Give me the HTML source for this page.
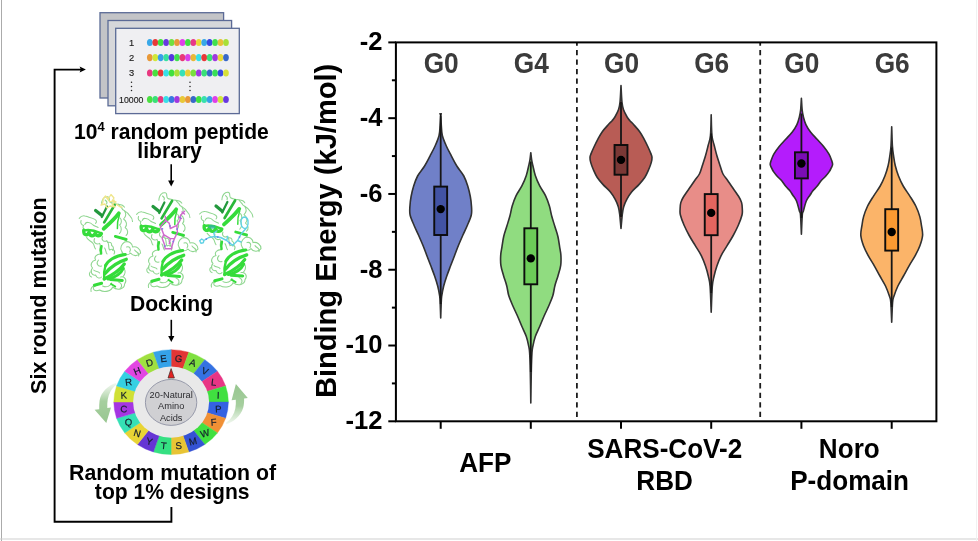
<!DOCTYPE html>
<html><head><meta charset="utf-8"><title>figure</title>
<style>
html,body{margin:0;padding:0;background:#fff;}
body{width:978px;height:541px;overflow:hidden;font-family:"Liberation Sans", sans-serif;}
svg{display:block;font-family:"Liberation Sans", sans-serif;}
svg text{font-family:"Liberation Sans", sans-serif;}
</style></head><body>
<svg width="978" height="541" viewBox="0 0 978 541">
<defs><filter id="soft" x="0" y="0" width="978" height="541" filterUnits="userSpaceOnUse"><feGaussianBlur stdDeviation="0.55"/></filter></defs>
<g filter="url(#soft)">
<rect x="0" y="0" width="978" height="541" fill="#ffffff"/>
<line x1="1.5" y1="0" x2="1.5" y2="541" stroke="#ababab" stroke-width="1"/>
<line x1="0" y1="539" x2="978" y2="539" stroke="#cfcfcf" stroke-width="1"/>
<line x1="976.5" y1="0" x2="976.5" y2="541" stroke="#f1f1f1" stroke-width="1"/>
<g id="chart">
<path d="M440.70 116.00 C440.80 117.55 441.02 122.05 441.29 125.30 C441.56 128.55 441.51 132.10 442.33 135.50 C443.15 138.90 444.70 142.32 446.20 145.70 C447.70 149.08 449.53 152.42 451.30 155.80 C453.07 159.18 454.72 162.63 456.80 166.00 C458.88 169.37 461.97 172.62 463.80 176.00 C465.63 179.38 466.72 182.88 467.80 186.30 C468.88 189.72 469.68 193.12 470.30 196.50 C470.92 199.88 471.33 203.52 471.50 206.60 C471.67 209.68 471.98 211.90 471.30 215.00 C470.62 218.10 468.82 221.82 467.40 225.20 C465.98 228.58 464.30 231.92 462.80 235.30 C461.30 238.68 459.78 242.10 458.40 245.50 C457.02 248.90 455.80 252.32 454.50 255.70 C453.20 259.08 451.88 262.42 450.60 265.80 C449.32 269.18 447.95 272.63 446.80 276.00 C445.65 279.37 444.56 282.62 443.70 286.00 C442.84 289.38 442.09 293.13 441.66 296.30 C441.24 299.47 441.30 301.38 441.14 305.00 C440.98 308.62 440.77 315.83 440.70 318.00 C440.63 315.83 440.42 308.62 440.26 305.00 C440.10 301.38 440.16 299.47 439.74 296.30 C439.31 293.13 438.56 289.38 437.70 286.00 C436.84 282.62 435.75 279.37 434.60 276.00 C433.45 272.63 432.08 269.18 430.80 265.80 C429.52 262.42 428.20 259.08 426.90 255.70 C425.60 252.32 424.38 248.90 423.00 245.50 C421.62 242.10 420.10 238.68 418.60 235.30 C417.10 231.92 415.42 228.58 414.00 225.20 C412.58 221.82 410.78 218.10 410.10 215.00 C409.42 211.90 409.73 209.68 409.90 206.60 C410.07 203.52 410.48 199.88 411.10 196.50 C411.72 193.12 412.52 189.72 413.60 186.30 C414.68 182.88 415.77 179.38 417.60 176.00 C419.43 172.62 422.52 169.37 424.60 166.00 C426.68 162.63 428.33 159.18 430.10 155.80 C431.87 152.42 433.70 149.08 435.20 145.70 C436.70 142.32 438.25 138.90 439.07 135.50 C439.89 132.10 439.84 128.55 440.11 125.30 C440.38 122.05 440.60 117.55 440.70 116.00 Z" fill="#7080c8" stroke="#303030" stroke-width="1.6" stroke-linejoin="round"/>
<line x1="440.70" y1="113.60" x2="440.70" y2="304.00" stroke="#161616" stroke-width="1.8"/>
<rect x="434.25" y="186.60" width="12.9" height="48.40" fill="#4353a4" stroke="#0c0c0c" stroke-width="1.9"/>
<circle cx="440.70" cy="209.10" r="4.2" fill="#000000"/>
<path d="M530.80 152.70 C530.95 153.92 531.36 157.90 531.69 160.00 C532.02 162.10 532.20 162.72 532.80 165.30 C533.40 167.88 534.17 172.10 535.30 175.50 C536.43 178.90 537.88 182.32 539.60 185.70 C541.32 189.08 543.97 192.42 545.60 195.80 C547.23 199.18 548.38 202.63 549.40 206.00 C550.42 209.37 550.80 212.62 551.70 216.00 C552.60 219.38 553.77 222.88 554.80 226.30 C555.83 229.72 557.10 233.12 557.90 236.50 C558.70 239.88 559.10 243.48 559.60 246.60 C560.10 249.72 560.72 252.08 560.90 255.20 C561.08 258.32 561.17 261.92 560.70 265.30 C560.23 268.68 559.07 272.10 558.10 275.50 C557.13 278.90 555.78 282.32 554.90 285.70 C554.02 289.08 553.83 292.42 552.80 295.80 C551.77 299.18 550.15 302.63 548.70 306.00 C547.25 309.37 545.58 312.62 544.10 316.00 C542.62 319.38 541.27 322.88 539.80 326.30 C538.33 329.72 536.47 333.12 535.30 336.50 C534.13 339.88 533.35 343.90 532.80 346.60 C532.25 349.30 532.23 348.80 531.98 352.70 C531.74 356.60 531.52 361.62 531.32 370.00 C531.12 378.38 530.89 397.50 530.80 403.00 C530.71 397.50 530.48 378.38 530.28 370.00 C530.08 361.62 529.86 356.60 529.62 352.70 C529.37 348.80 529.35 349.30 528.80 346.60 C528.25 343.90 527.47 339.88 526.30 336.50 C525.13 333.12 523.27 329.72 521.80 326.30 C520.33 322.88 518.98 319.38 517.50 316.00 C516.02 312.62 514.35 309.37 512.90 306.00 C511.45 302.63 509.83 299.18 508.80 295.80 C507.77 292.42 507.58 289.08 506.70 285.70 C505.82 282.32 504.47 278.90 503.50 275.50 C502.53 272.10 501.37 268.68 500.90 265.30 C500.43 261.92 500.52 258.32 500.70 255.20 C500.88 252.08 501.50 249.72 502.00 246.60 C502.50 243.48 502.90 239.88 503.70 236.50 C504.50 233.12 505.77 229.72 506.80 226.30 C507.83 222.88 509.00 219.38 509.90 216.00 C510.80 212.62 511.18 209.37 512.20 206.00 C513.22 202.63 514.37 199.18 516.00 195.80 C517.63 192.42 520.28 189.08 522.00 185.70 C523.72 182.32 525.17 178.90 526.30 175.50 C527.43 172.10 528.20 167.88 528.80 165.30 C529.40 162.72 529.58 162.10 529.91 160.00 C530.24 157.90 530.65 153.92 530.80 152.70 Z" fill="#90dc80" stroke="#303030" stroke-width="1.6" stroke-linejoin="round"/>
<line x1="530.80" y1="161.50" x2="530.80" y2="372.00" stroke="#161616" stroke-width="1.8"/>
<rect x="524.35" y="228.30" width="12.9" height="56.00" fill="#6ccc58" stroke="#0c0c0c" stroke-width="1.9"/>
<circle cx="530.80" cy="258.40" r="4.2" fill="#000000"/>
<path d="M621.00 85.60 C621.16 88.37 621.55 98.20 621.96 102.20 C622.37 106.20 622.59 107.13 623.44 109.60 C624.30 112.07 626.02 115.15 627.10 117.00 C628.18 118.85 628.85 119.48 629.90 120.70 C630.95 121.92 631.77 122.47 633.40 124.30 C635.03 126.13 637.92 129.23 639.70 131.70 C641.48 134.17 642.75 136.63 644.10 139.10 C645.45 141.57 646.65 144.03 647.80 146.50 C648.95 148.97 650.30 152.07 651.00 153.90 C651.70 155.73 651.95 156.08 652.00 157.50 C652.05 158.92 651.87 160.35 651.30 162.40 C650.73 164.45 649.67 167.33 648.60 169.80 C647.53 172.27 646.52 174.73 644.90 177.20 C643.28 179.67 641.12 182.13 638.90 184.60 C636.68 187.07 633.62 189.55 631.60 192.00 C629.58 194.45 628.12 196.85 626.80 199.30 C625.48 201.75 624.44 204.23 623.70 206.70 C622.96 209.17 622.78 210.47 622.33 214.10 C621.88 217.73 621.22 226.10 621.00 228.50 C620.78 226.10 620.12 217.73 619.67 214.10 C619.22 210.47 619.04 209.17 618.30 206.70 C617.56 204.23 616.52 201.75 615.20 199.30 C613.88 196.85 612.42 194.45 610.40 192.00 C608.38 189.55 605.32 187.07 603.10 184.60 C600.88 182.13 598.72 179.67 597.10 177.20 C595.48 174.73 594.47 172.27 593.40 169.80 C592.33 167.33 591.27 164.45 590.70 162.40 C590.13 160.35 589.95 158.92 590.00 157.50 C590.05 156.08 590.30 155.73 591.00 153.90 C591.70 152.07 593.05 148.97 594.20 146.50 C595.35 144.03 596.55 141.57 597.90 139.10 C599.25 136.63 600.52 134.17 602.30 131.70 C604.08 129.23 606.97 126.13 608.60 124.30 C610.23 122.47 611.05 121.92 612.10 120.70 C613.15 119.48 613.82 118.85 614.90 117.00 C615.98 115.15 617.70 112.07 618.56 109.60 C619.41 107.13 619.63 106.20 620.04 102.20 C620.45 98.20 620.84 88.37 621.00 85.60 Z" fill="#b85c55" stroke="#303030" stroke-width="1.6" stroke-linejoin="round"/>
<line x1="621.00" y1="102.00" x2="621.00" y2="217.00" stroke="#161616" stroke-width="1.8"/>
<rect x="614.55" y="145.00" width="12.9" height="29.70" fill="#7a3836" stroke="#0c0c0c" stroke-width="1.9"/>
<circle cx="621.00" cy="159.90" r="4.2" fill="#000000"/>
<path d="M711.20 114.80 C711.32 118.25 711.42 130.35 711.94 135.50 C712.46 140.65 713.47 142.32 714.30 145.70 C715.13 149.08 715.92 152.42 716.90 155.80 C717.88 159.18 719.18 162.97 720.20 166.00 C721.22 169.03 721.78 171.63 723.00 174.00 C724.22 176.37 726.07 178.15 727.50 180.20 C728.93 182.25 729.73 183.58 731.60 186.30 C733.47 189.02 737.03 193.78 738.70 196.50 C740.37 199.22 741.00 200.52 741.60 202.60 C742.20 204.68 742.23 206.93 742.30 209.00 C742.37 211.07 742.67 212.28 742.00 215.00 C741.33 217.72 739.77 221.88 738.30 225.30 C736.83 228.72 735.07 232.10 733.20 235.50 C731.33 238.90 729.13 242.32 727.10 245.70 C725.07 249.08 722.70 252.42 721.00 255.80 C719.30 259.18 718.05 262.63 716.90 266.00 C715.75 269.37 714.87 272.62 714.10 276.00 C713.34 279.38 712.79 280.25 712.31 286.30 C711.83 292.35 711.38 307.97 711.20 312.30 C711.02 307.97 710.57 292.35 710.09 286.30 C709.61 280.25 709.07 279.38 708.30 276.00 C707.54 272.62 706.65 269.37 705.50 266.00 C704.35 262.63 703.10 259.18 701.40 255.80 C699.70 252.42 697.33 249.08 695.30 245.70 C693.27 242.32 691.07 238.90 689.20 235.50 C687.33 232.10 685.57 228.72 684.10 225.30 C682.63 221.88 681.07 217.72 680.40 215.00 C679.73 212.28 680.03 211.07 680.10 209.00 C680.17 206.93 680.20 204.68 680.80 202.60 C681.40 200.52 682.03 199.22 683.70 196.50 C685.37 193.78 688.93 189.02 690.80 186.30 C692.67 183.58 693.47 182.25 694.90 180.20 C696.33 178.15 698.18 176.37 699.40 174.00 C700.62 171.63 701.18 169.03 702.20 166.00 C703.22 162.97 704.52 159.18 705.50 155.80 C706.48 152.42 707.27 149.08 708.10 145.70 C708.93 142.32 709.94 140.65 710.46 135.50 C710.98 130.35 711.08 118.25 711.20 114.80 Z" fill="#e88d88" stroke="#303030" stroke-width="1.6" stroke-linejoin="round"/>
<line x1="711.20" y1="133.50" x2="711.20" y2="293.00" stroke="#161616" stroke-width="1.8"/>
<rect x="704.75" y="194.10" width="12.9" height="41.10" fill="#e4655f" stroke="#0c0c0c" stroke-width="1.9"/>
<circle cx="711.20" cy="212.90" r="4.2" fill="#000000"/>
<path d="M801.40 98.20 C801.52 100.13 801.79 106.63 802.14 109.80 C802.49 112.97 802.85 114.73 803.47 117.20 C804.10 119.67 804.73 122.13 805.90 124.60 C807.07 127.07 808.63 129.55 810.50 132.00 C812.37 134.45 814.88 136.85 817.10 139.30 C819.32 141.75 821.82 144.23 823.80 146.70 C825.78 149.17 827.68 151.80 829.00 154.10 C830.32 156.40 831.10 158.77 831.70 160.50 C832.30 162.23 832.70 163.22 832.60 164.50 C832.50 165.78 831.68 166.97 831.10 168.20 C830.52 169.43 830.05 170.52 829.10 171.90 C828.15 173.28 826.70 175.07 825.40 176.50 C824.10 177.93 822.73 178.82 821.30 180.50 C819.87 182.18 818.20 184.90 816.80 186.60 C815.40 188.30 814.02 189.30 812.90 190.70 C811.78 192.10 811.18 193.32 810.10 195.00 C809.02 196.68 807.52 198.13 806.40 200.80 C805.28 203.47 804.08 208.63 803.40 211.00 C802.71 213.37 802.62 211.12 802.29 215.00 C801.96 218.88 801.55 231.08 801.40 234.30 C801.25 231.08 800.84 218.88 800.51 215.00 C800.18 211.12 800.09 213.37 799.40 211.00 C798.72 208.63 797.52 203.47 796.40 200.80 C795.28 198.13 793.78 196.68 792.70 195.00 C791.62 193.32 791.02 192.10 789.90 190.70 C788.78 189.30 787.40 188.30 786.00 186.60 C784.60 184.90 782.93 182.18 781.50 180.50 C780.07 178.82 778.70 177.93 777.40 176.50 C776.10 175.07 774.65 173.28 773.70 171.90 C772.75 170.52 772.28 169.43 771.70 168.20 C771.12 166.97 770.30 165.78 770.20 164.50 C770.10 163.22 770.50 162.23 771.10 160.50 C771.70 158.77 772.48 156.40 773.80 154.10 C775.12 151.80 777.02 149.17 779.00 146.70 C780.98 144.23 783.48 141.75 785.70 139.30 C787.92 136.85 790.43 134.45 792.30 132.00 C794.17 129.55 795.73 127.07 796.90 124.60 C798.07 122.13 798.70 119.67 799.33 117.20 C799.95 114.73 800.31 112.97 800.66 109.80 C801.01 106.63 801.28 100.13 801.40 98.20 Z" fill="#b41cfc" stroke="#303030" stroke-width="1.6" stroke-linejoin="round"/>
<line x1="801.40" y1="113.50" x2="801.40" y2="218.00" stroke="#161616" stroke-width="1.8"/>
<rect x="794.95" y="152.30" width="12.9" height="26.10" fill="#7a0cb4" stroke="#0c0c0c" stroke-width="1.9"/>
<circle cx="801.40" cy="163.50" r="4.2" fill="#000000"/>
<path d="M891.70 126.80 C891.81 129.92 892.06 140.68 892.37 145.50 C892.67 150.32 893.06 152.32 893.55 155.70 C894.04 159.08 894.48 162.42 895.30 165.80 C896.12 169.18 897.18 172.63 898.50 176.00 C899.82 179.37 901.28 182.62 903.20 186.00 C905.12 189.38 907.87 192.88 910.00 196.30 C912.13 199.72 914.37 203.12 916.00 206.50 C917.63 209.88 918.90 213.48 919.80 216.60 C920.70 219.72 920.93 222.08 921.40 225.20 C921.87 228.32 922.83 231.92 922.60 235.30 C922.37 238.68 921.23 242.10 920.00 245.50 C918.77 248.90 917.02 252.32 915.20 255.70 C913.38 259.08 911.05 262.42 909.10 265.80 C907.15 269.18 905.37 272.63 903.50 276.00 C901.63 279.37 899.50 282.62 897.90 286.00 C896.30 289.38 894.81 293.57 893.92 296.30 C893.03 299.03 892.96 298.07 892.59 302.40 C892.22 306.73 891.85 318.98 891.70 322.30 C891.55 318.98 891.18 306.73 890.81 302.40 C890.44 298.07 890.37 299.03 889.48 296.30 C888.59 293.57 887.10 289.38 885.50 286.00 C883.90 282.62 881.77 279.37 879.90 276.00 C878.03 272.63 876.25 269.18 874.30 265.80 C872.35 262.42 870.02 259.08 868.20 255.70 C866.38 252.32 864.63 248.90 863.40 245.50 C862.17 242.10 861.03 238.68 860.80 235.30 C860.57 231.92 861.53 228.32 862.00 225.20 C862.47 222.08 862.70 219.72 863.60 216.60 C864.50 213.48 865.77 209.88 867.40 206.50 C869.03 203.12 871.27 199.72 873.40 196.30 C875.53 192.88 878.28 189.38 880.20 186.00 C882.12 182.62 883.58 179.37 884.90 176.00 C886.22 172.63 887.28 169.18 888.10 165.80 C888.92 162.42 889.36 159.08 889.85 155.70 C890.34 152.32 890.73 150.32 891.03 145.50 C891.34 140.68 891.59 129.92 891.70 126.80 Z" fill="#fbb469" stroke="#303030" stroke-width="1.6" stroke-linejoin="round"/>
<line x1="891.70" y1="147.50" x2="891.70" y2="307.00" stroke="#161616" stroke-width="1.8"/>
<rect x="885.25" y="209.20" width="12.9" height="41.40" fill="#fb9a32" stroke="#0c0c0c" stroke-width="1.9"/>
<circle cx="891.70" cy="231.95" r="4.2" fill="#000000"/>
<line x1="439.2" y1="113.8" x2="442" y2="113.8" stroke="#1a1a1a" stroke-width="1.2"/>
<line x1="576.9" y1="42.4" x2="576.9" y2="421.3" stroke="#1c1c1c" stroke-width="1.8" stroke-dasharray="5.3 4.22" stroke-dashoffset="2"/>
<line x1="760.2" y1="42.4" x2="760.2" y2="421.3" stroke="#1c1c1c" stroke-width="1.8" stroke-dasharray="5.3 4.22" stroke-dashoffset="2"/>
<rect x="395.90" y="42.40" width="540.50" height="378.90" fill="none" stroke="#000000" stroke-width="2"/>
<line x1="388.30" y1="42.40" x2="395.90" y2="42.40" stroke="#000" stroke-width="2"/>
<line x1="391.90" y1="80.29" x2="395.90" y2="80.29" stroke="#000" stroke-width="2"/>
<line x1="388.30" y1="118.18" x2="395.90" y2="118.18" stroke="#000" stroke-width="2"/>
<line x1="391.90" y1="156.07" x2="395.90" y2="156.07" stroke="#000" stroke-width="2"/>
<line x1="388.30" y1="193.96" x2="395.90" y2="193.96" stroke="#000" stroke-width="2"/>
<line x1="391.90" y1="231.85" x2="395.90" y2="231.85" stroke="#000" stroke-width="2"/>
<line x1="388.30" y1="269.74" x2="395.90" y2="269.74" stroke="#000" stroke-width="2"/>
<line x1="391.90" y1="307.63" x2="395.90" y2="307.63" stroke="#000" stroke-width="2"/>
<line x1="388.30" y1="345.52" x2="395.90" y2="345.52" stroke="#000" stroke-width="2"/>
<line x1="391.90" y1="383.41" x2="395.90" y2="383.41" stroke="#000" stroke-width="2"/>
<line x1="388.30" y1="421.30" x2="395.90" y2="421.30" stroke="#000" stroke-width="2"/>
<line x1="440.70" y1="421.30" x2="440.70" y2="428.80" stroke="#000" stroke-width="2"/>
<line x1="530.80" y1="421.30" x2="530.80" y2="428.80" stroke="#000" stroke-width="2"/>
<line x1="621.00" y1="421.30" x2="621.00" y2="428.80" stroke="#000" stroke-width="2"/>
<line x1="711.20" y1="421.30" x2="711.20" y2="428.80" stroke="#000" stroke-width="2"/>
<line x1="801.40" y1="421.30" x2="801.40" y2="428.80" stroke="#000" stroke-width="2"/>
<line x1="891.70" y1="421.30" x2="891.70" y2="428.80" stroke="#000" stroke-width="2"/>
<text transform="translate(382.50 50.30) scale(1 1.040)" text-anchor="end" font-size="25.6" font-weight="700" fill="#000">-2</text>
<text transform="translate(382.50 126.08) scale(1 1.040)" text-anchor="end" font-size="25.6" font-weight="700" fill="#000">-4</text>
<text transform="translate(382.50 201.86) scale(1 1.040)" text-anchor="end" font-size="25.6" font-weight="700" fill="#000">-6</text>
<text transform="translate(382.50 277.64) scale(1 1.040)" text-anchor="end" font-size="25.6" font-weight="700" fill="#000">-8</text>
<text transform="translate(382.50 353.42) scale(1 1.040)" text-anchor="end" font-size="25.6" font-weight="700" fill="#000">-10</text>
<text transform="translate(382.50 429.20) scale(1 1.040)" text-anchor="end" font-size="25.6" font-weight="700" fill="#000">-12</text>
<text transform="translate(441.20 72.60) scale(1 1.090)" text-anchor="middle" font-size="26.3" font-weight="700" fill="#3a3a3a">G0</text>
<text transform="translate(531.30 72.60) scale(1 1.090)" text-anchor="middle" font-size="26.3" font-weight="700" fill="#3a3a3a">G4</text>
<text transform="translate(621.50 72.60) scale(1 1.090)" text-anchor="middle" font-size="26.3" font-weight="700" fill="#3a3a3a">G0</text>
<text transform="translate(711.70 72.60) scale(1 1.090)" text-anchor="middle" font-size="26.3" font-weight="700" fill="#3a3a3a">G6</text>
<text transform="translate(801.90 72.60) scale(1 1.090)" text-anchor="middle" font-size="26.3" font-weight="700" fill="#3a3a3a">G0</text>
<text transform="translate(892.20 72.60) scale(1 1.090)" text-anchor="middle" font-size="26.3" font-weight="700" fill="#3a3a3a">G6</text>
<text transform="translate(485.30 472.30) scale(1 1.040)" text-anchor="middle" font-size="26.1" font-weight="700" fill="#000">AFP</text>
<text transform="translate(664.70 458.20) scale(1 1.040)" text-anchor="middle" font-size="26.1" font-weight="700" fill="#000">SARS-CoV-2</text>
<text transform="translate(664.60 490.00) scale(1 1.040)" text-anchor="middle" font-size="26.1" font-weight="700" fill="#000">RBD</text>
<text transform="translate(849.30 458.20) scale(1 1.040)" text-anchor="middle" font-size="26.1" font-weight="700" fill="#000">Noro</text>
<text transform="translate(849.60 490.00) scale(1 1.040)" text-anchor="middle" font-size="26.1" font-weight="700" fill="#000">P-domain</text>
<text transform="translate(336.2 230.9) rotate(-90) scale(1 1.03)" text-anchor="middle" font-size="29.1" font-weight="700" fill="#000">Binding Energy (kJ/mol)</text>
</g>
<g id="left">
<path d="M171.4 507 V521.8 H54.6 V69.6 H81" fill="none" stroke="#000" stroke-width="1.9"/>
<path d="M85.9 69.6 L79.6 66.6 L80.8 69.6 L79.6 72.6 Z" fill="#000"/>
<text transform="translate(46.4 295.7) rotate(-90) scale(1 1.05)" text-anchor="middle" font-size="21.6" font-weight="700" fill="#000">Six round mutation</text>
<rect x="100.0" y="12.7" width="123.6" height="85.3" fill="#c3c4c7" stroke="#5b6b96" stroke-width="1.3"/>
<rect x="108.0" y="20.5" width="123.6" height="85.3" fill="#d6d7da" stroke="#5b6b96" stroke-width="1.3"/>
<rect x="115.7" y="28.3" width="123.6" height="85.3" fill="#efeff2" stroke="#5b6b96" stroke-width="1.3"/>
<text x="131.5" y="45.9" text-anchor="middle" font-size="9.3" fill="#1c1c1c" stroke="#1c1c1c" stroke-width="0.15">1</text>
<ellipse cx="149.80" cy="42.5" rx="2.85" ry="3.6" fill="#38a8e8"/>
<ellipse cx="155.24" cy="42.5" rx="2.85" ry="3.6" fill="#e83838"/>
<ellipse cx="160.68" cy="42.5" rx="2.85" ry="3.6" fill="#40e040"/>
<ellipse cx="166.12" cy="42.5" rx="2.85" ry="3.6" fill="#6838e0"/>
<ellipse cx="171.56" cy="42.5" rx="2.85" ry="3.6" fill="#70e040"/>
<ellipse cx="177.00" cy="42.5" rx="2.85" ry="3.6" fill="#e89838"/>
<ellipse cx="182.44" cy="42.5" rx="2.85" ry="3.6" fill="#e040e8"/>
<ellipse cx="187.88" cy="42.5" rx="2.85" ry="3.6" fill="#40e040"/>
<ellipse cx="193.32" cy="42.5" rx="2.85" ry="3.6" fill="#e83888"/>
<ellipse cx="198.76" cy="42.5" rx="2.85" ry="3.6" fill="#e8d838"/>
<ellipse cx="204.20" cy="42.5" rx="2.85" ry="3.6" fill="#38a8e8"/>
<ellipse cx="209.64" cy="42.5" rx="2.85" ry="3.6" fill="#3848e0"/>
<ellipse cx="215.08" cy="42.5" rx="2.85" ry="3.6" fill="#40e050"/>
<ellipse cx="220.52" cy="42.5" rx="2.85" ry="3.6" fill="#e8c038"/>
<ellipse cx="225.96" cy="42.5" rx="2.85" ry="3.6" fill="#a8e038"/>
<text x="131.5" y="61.0" text-anchor="middle" font-size="9.3" fill="#1c1c1c" stroke="#1c1c1c" stroke-width="0.15">2</text>
<ellipse cx="149.80" cy="57.6" rx="2.85" ry="3.6" fill="#e89838"/>
<ellipse cx="155.24" cy="57.6" rx="2.85" ry="3.6" fill="#d0e838"/>
<ellipse cx="160.68" cy="57.6" rx="2.85" ry="3.6" fill="#38a0e8"/>
<ellipse cx="166.12" cy="57.6" rx="2.85" ry="3.6" fill="#38e0a0"/>
<ellipse cx="171.56" cy="57.6" rx="2.85" ry="3.6" fill="#5838e0"/>
<ellipse cx="177.00" cy="57.6" rx="2.85" ry="3.6" fill="#40e050"/>
<ellipse cx="182.44" cy="57.6" rx="2.85" ry="3.6" fill="#e83878"/>
<ellipse cx="187.88" cy="57.6" rx="2.85" ry="3.6" fill="#d840e8"/>
<ellipse cx="193.32" cy="57.6" rx="2.85" ry="3.6" fill="#e8b838"/>
<ellipse cx="198.76" cy="57.6" rx="2.85" ry="3.6" fill="#38e0e8"/>
<ellipse cx="204.20" cy="57.6" rx="2.85" ry="3.6" fill="#e83838"/>
<ellipse cx="209.64" cy="57.6" rx="2.85" ry="3.6" fill="#38e078"/>
<ellipse cx="215.08" cy="57.6" rx="2.85" ry="3.6" fill="#a038e0"/>
<ellipse cx="220.52" cy="57.6" rx="2.85" ry="3.6" fill="#e8d838"/>
<ellipse cx="225.96" cy="57.6" rx="2.85" ry="3.6" fill="#3868c8"/>
<text x="131.5" y="76.4" text-anchor="middle" font-size="9.3" fill="#1c1c1c" stroke="#1c1c1c" stroke-width="0.15">3</text>
<ellipse cx="149.80" cy="73.0" rx="2.85" ry="3.6" fill="#e83880"/>
<ellipse cx="155.24" cy="73.0" rx="2.85" ry="3.6" fill="#48e040"/>
<ellipse cx="160.68" cy="73.0" rx="2.85" ry="3.6" fill="#e83838"/>
<ellipse cx="166.12" cy="73.0" rx="2.85" ry="3.6" fill="#38e0e8"/>
<ellipse cx="171.56" cy="73.0" rx="2.85" ry="3.6" fill="#40e040"/>
<ellipse cx="177.00" cy="73.0" rx="2.85" ry="3.6" fill="#a8e038"/>
<ellipse cx="182.44" cy="73.0" rx="2.85" ry="3.6" fill="#38e0b8"/>
<ellipse cx="187.88" cy="73.0" rx="2.85" ry="3.6" fill="#e8d038"/>
<ellipse cx="193.32" cy="73.0" rx="2.85" ry="3.6" fill="#78e040"/>
<ellipse cx="198.76" cy="73.0" rx="2.85" ry="3.6" fill="#a038e0"/>
<ellipse cx="204.20" cy="73.0" rx="2.85" ry="3.6" fill="#38e078"/>
<ellipse cx="209.64" cy="73.0" rx="2.85" ry="3.6" fill="#3868c8"/>
<ellipse cx="215.08" cy="73.0" rx="2.85" ry="3.6" fill="#38e058"/>
<ellipse cx="220.52" cy="73.0" rx="2.85" ry="3.6" fill="#3848e0"/>
<ellipse cx="225.96" cy="73.0" rx="2.85" ry="3.6" fill="#d8e038"/>
<text x="131.3" y="102.5" text-anchor="middle" font-size="9.1" fill="#1c1c1c" stroke="#1c1c1c" stroke-width="0.15" textLength="24.4" lengthAdjust="spacingAndGlyphs">10000</text>
<ellipse cx="149.80" cy="99.5" rx="2.85" ry="3.6" fill="#48e040"/>
<ellipse cx="155.24" cy="99.5" rx="2.85" ry="3.6" fill="#38e078"/>
<ellipse cx="160.68" cy="99.5" rx="2.85" ry="3.6" fill="#e83880"/>
<ellipse cx="166.12" cy="99.5" rx="2.85" ry="3.6" fill="#38e0e8"/>
<ellipse cx="171.56" cy="99.5" rx="2.85" ry="3.6" fill="#3878e0"/>
<ellipse cx="177.00" cy="99.5" rx="2.85" ry="3.6" fill="#a038e0"/>
<ellipse cx="182.44" cy="99.5" rx="2.85" ry="3.6" fill="#e8c838"/>
<ellipse cx="187.88" cy="99.5" rx="2.85" ry="3.6" fill="#e89838"/>
<ellipse cx="193.32" cy="99.5" rx="2.85" ry="3.6" fill="#3868c8"/>
<ellipse cx="198.76" cy="99.5" rx="2.85" ry="3.6" fill="#40e040"/>
<ellipse cx="204.20" cy="99.5" rx="2.85" ry="3.6" fill="#38e0b0"/>
<ellipse cx="209.64" cy="99.5" rx="2.85" ry="3.6" fill="#38a0e8"/>
<ellipse cx="215.08" cy="99.5" rx="2.85" ry="3.6" fill="#e040e8"/>
<ellipse cx="220.52" cy="99.5" rx="2.85" ry="3.6" fill="#d0e838"/>
<ellipse cx="225.96" cy="99.5" rx="2.85" ry="3.6" fill="#6838e0"/>
<circle cx="131.5" cy="82.3" r="0.75" fill="#222"/>
<circle cx="131.5" cy="86.4" r="0.75" fill="#222"/>
<circle cx="131.5" cy="90.4" r="0.75" fill="#222"/>
<circle cx="190.0" cy="82.3" r="0.75" fill="#222"/>
<circle cx="190.0" cy="86.4" r="0.75" fill="#222"/>
<circle cx="190.0" cy="90.4" r="0.75" fill="#222"/>
<text transform="translate(171.4 138.6) scale(1 1.05)" text-anchor="middle" font-size="21.1" font-weight="700" fill="#000">10<tspan font-size="13" dy="-7.5">4</tspan><tspan dy="7.5"> random peptide</tspan></text>
<text transform="translate(169.60 158.00) scale(1 1.050)" text-anchor="middle" font-size="21.1" font-weight="700" fill="#000">library</text>
<line x1="171.2" y1="164.3" x2="171.2" y2="182" stroke="#000" stroke-width="1.6"/>
<path d="M171.2 186.6 L168.1 180.6 L174.3 180.6 Z" fill="#000"/>
<defs>
<g id="prot">
 <g fill="none" stroke="#8fd690" stroke-width="1.05" stroke-linecap="round" stroke-linejoin="round">
  <path d="M26.9 12.2 C27 9 29 6 30.5 5.1 C32.5 4.2 34.4 4.8 34.6 6.1 C34.9 8 34.6 9.4 35.6 10.2 C37 11.2 39 11.2 40.7 11.7 C43.5 12.3 46 12.2 47.8 13.2 C49 14 49.6 14.6 49.8 15.2"/>
  <path d="M30.5 8 C32 9 33 10.5 32 12 M44 12.3 C45 14.5 47 15 48 17.5 C50 19 53 20 54.9 23.4 C56.5 25 58 27 57.9 29.5"/>
  <path d="M4.6 26.4 C6 24.5 8 23.6 10.2 23.9 C12 24 13.5 25 15.2 25.4 C17 25.8 18.8 26.4 20.3 27.4 C22 28.4 22.4 30 21 31.4"/>
  <path d="M10.2 32.5 C11 30.8 12.2 30.2 13.2 30.5 C15.5 30 17 31.5 18.5 33 C20 34.4 22 34.5 23.5 35.5"/>
  <path d="M6.5 28.5 C5.5 31 7 33 9 33.5 C8 35 8.4 36.5 9.5 37.2"/>
  <path d="M50 19 C52 22 51 25 49 27 C52 29 53 33 50.5 35.5 C53.5 37.5 54 41.5 51.5 43.5"/>
  <path d="M45.5 26 C47.5 28 47 31.5 45 33 C47.5 35.5 47 39.5 44.8 41.5"/>
  <path d="M28 44.5 C26.2 48 29.5 50.5 32.2 48.6 C35.4 50.8 33 55 35 58 C38.6 56 41.2 59 39.4 62"/>
  <path d="M20 46.5 C18 50.4 22 53.2 25 51.4 C27 54 24.4 56 25.4 59 M12 45.5 C13.5 48.5 16.5 49 18.5 51.5 C20 53.5 19.5 55.5 21 57"/>
  <path d="M33 50.5 C35.5 49.5 37.5 51 37 53.5 C39 54.5 39.5 57 38 58.5 M30 56 C31.5 58 31 60.5 32.5 62"/>
  <path d="M50 50 C54.5 48.6 58 51.6 58 55 C62 54 66 57 66 61 C63.2 65 58 64 56 61 C53 64 48 63 47 59 C45 56 47 52 50 50 Z"/>
  <path d="M52 55 C55 54 57 57 55 60 M60 58 C62 61 65 60 64 64 M47 46.5 C49 48 51 47.5 52.5 49.5"/>
  <path d="M26 62 C22 62 19 65 21 68 C17 69 15 73 18 76 C15 79 17 84 21 83 C22 86 25 87 27 85"/>
  <path d="M24 68 C21 71 23 75 27 74 M19 78 C21 80 24 79 25 81 M15.5 80 C14 82 15 84.5 17 85"/>
  <path d="M16.5 99.5 C15.5 96 18 93.5 20.5 94.5 M20 94 C17 97 20 100 25 98 C30 101 37 99 38 95 C43 99 50 97 50 92 C53 88 50 84 46 85"/>
  <path d="M28 94 C32 96 36 94 37 91 M44 90 C47 91 48 94 46 96 M48.5 84.5 C51 82 51 78.5 49.5 76.5"/>
 </g>
 <g fill="none" stroke="#36dc3a" stroke-linecap="round" stroke-linejoin="round">
  <path d="M9.2 38.2 C8.6 43.6 13 44.2 14.4 40 C15 44.6 19.2 45 20.6 41 C21.2 44.6 25.4 44.6 26.8 41.5" stroke-width="3.4"/>
  <path d="M9.4 38.4 C14 37.4 20 38.4 25.5 40.8" stroke-width="2.4"/>
  <path d="M44.2 21.3 C40 27 34 32.2 29 36.8" stroke-width="3.8"/>
  <path d="M44.7 23.4 C43 28 42.5 32 42.8 36.6" stroke-width="1.5"/>
  <path d="M40.7 44.4 L51.6 47.3" stroke-width="2.8"/>
  <path d="M26.9 54.2 C26.2 56.5 26 59 26.5 61.5" stroke-width="2.5"/>
  <path d="M30.9 73.5 C33 69 40 63.5 50.7 62.4" stroke-width="3"/>
  <path d="M30.5 81.5 C35 76 43 70 51.7 67.3" stroke-width="3.3"/>
  <path d="M29.6 87 C36 84 45 78.5 49.7 72" stroke-width="3.3"/>
  <path d="M33.5 87 C40 85.5 46 82 48.7 76.4" stroke-width="3"/>
  <path d="M36 87.6 L47.7 88.4" stroke-width="3"/>
  <path d="M30.9 73.5 C29.5 78 29.2 83 29.6 87" stroke-width="2.4"/>
  <path d="M19.7 93.2 L27 91.3" stroke-width="3"/>
  <path d="M36.5 92 L40.6 94.5" stroke-width="2"/>
 </g>
 <path d="M40.1 12.9 L29.6 30.4" fill="none" stroke="#2cb83a" stroke-width="2.7" stroke-linecap="round"/>
 <g fill="none" stroke="#23983c" stroke-linecap="round" stroke-linejoin="round">
  <path d="M21 18.4 L27.3 23.6" stroke-width="3.2"/>
  <path d="M32.4 14.4 L27.2 25" stroke-width="2.2"/>
 </g>
</g>
</defs>
<defs><filter id="soft2" x="60" y="180" width="240" height="125" filterUnits="userSpaceOnUse"><feGaussianBlur stdDeviation="0.7"/></filter></defs><g filter="url(#soft2)">
<use href="#prot" x="74.6" y="192"/>
<use href="#prot" x="132" y="188"/>
<use href="#prot" x="195" y="187.6"/>
<path d="M103 199 l2.5 -3 l3 2.5 l2.5 -4 l3 3.5 l-2 3 l4 1 l-4 2 l3 3 l-5 -1 l-3 2 l-2 -4 l-4 1 l2 -3 Z M106 197 l4 5 l5 -2 M116 204 l3.5 2.5 l3 0.8" fill="none" stroke="#efe58a" stroke-width="1.3" stroke-linejoin="round"/>
<path d="M184.6 211.2 L180.5 215.2 L180 220.3 L176.9 225.4 L177.4 232.5 L174.4 238.6 L172.4 244.7 L171.3 248.8 L165.2 248.8 L164.2 243.7 L162.2 238.6 L163.7 234.6 L162.2 230.5 L160.2 226.9 L165.8 220.3 L165.2 216.3 M169.3 223.4 L170.3 228.5 L176.9 225.4 M170.3 238.6 L169.3 243.7 M163.7 234.6 L170.3 238.6 L174.4 238.6 M165.8 220.3 L169.3 223.4 M182 212 l2.5 2 M178.5 217 l3 1.5" fill="none" stroke="#cf6acd" stroke-width="1.45" stroke-linejoin="round" stroke-linecap="round"/>
<g fill="#7f7fe0"><circle cx="180.3" cy="217.8" r="0.9"/><circle cx="177.2" cy="229" r="0.9"/><circle cx="162.4" cy="228.8" r="0.9"/><circle cx="173.2" cy="241.5" r="0.9"/><circle cx="165" cy="246" r="0.9"/><circle cx="170" cy="226" r="0.9"/></g>
<path d="M244.5 217 C248.5 217.5 249 223 247 227.5 C245 229.5 241.5 228 241 224 C240.5 220 242 217 244.5 217 Z M246 228.5 L241.5 233.5 L237.6 240.5 L232.6 245.4 L226.7 240.5 L220.7 237.5 L214.8 236.5 L208.9 237.5 L203.9 240.5 M203.9 240.5 l-2.2 -1.5 l-2 1.8 l1.2 2.4 l2.4 -0.4 Z M226.7 240.5 l1 -4 M237.6 240.5 l3.5 1.5 M214.8 236.5 l-1 -3.5 l3 -2" fill="none" stroke="#62d2e5" stroke-width="1.4" stroke-linejoin="round" stroke-linecap="round"/>
<path d="M208 226.5 C210 224 214 224.5 216 227 C214.5 229.5 210 229.5 208 226.5 Z" fill="#2fb4a0" opacity="0.8"/>
<g fill="#6f8fe8"><circle cx="239.5" cy="237" r="0.9"/><circle cx="229.5" cy="243" r="0.9"/><circle cx="217.8" cy="237" r="0.9"/><circle cx="206.3" cy="239" r="0.9"/></g>
</g>
<text transform="translate(171.50 310.80) scale(1 1.080)" text-anchor="middle" font-size="21.1" font-weight="700" fill="#000">Docking</text>
<line x1="171.3" y1="319.8" x2="171.3" y2="337.5" stroke="#000" stroke-width="1.6"/>
<path d="M171.3 342.1 L168.2 336 L174.4 336 Z" fill="#000"/>
<path d="M171.10 402.10 L171.10 349.70 A57.3 52.4 0 0 1 188.81 352.26 Z" fill="#e23535" stroke="#e23535" stroke-width="0.4"/>
<path d="M171.10 402.10 L188.81 352.26 A57.3 52.4 0 0 1 204.78 359.71 Z" fill="#7fe03f" stroke="#7fe03f" stroke-width="0.4"/>
<path d="M171.10 402.10 L204.78 359.71 A57.3 52.4 0 0 1 217.46 371.30 Z" fill="#3572e2" stroke="#3572e2" stroke-width="0.4"/>
<path d="M171.10 402.10 L217.46 371.30 A57.3 52.4 0 0 1 225.60 385.91 Z" fill="#e83585" stroke="#e83585" stroke-width="0.4"/>
<path d="M171.10 402.10 L225.60 385.91 A57.3 52.4 0 0 1 228.40 402.10 Z" fill="#3fe03f" stroke="#3fe03f" stroke-width="0.4"/>
<path d="M171.10 402.10 L228.40 402.10 A57.3 52.4 0 0 1 225.60 418.29 Z" fill="#3562e2" stroke="#3562e2" stroke-width="0.4"/>
<path d="M171.10 402.10 L225.60 418.29 A57.3 52.4 0 0 1 217.46 432.90 Z" fill="#f09035" stroke="#f09035" stroke-width="0.4"/>
<path d="M171.10 402.10 L217.46 432.90 A57.3 52.4 0 0 1 204.78 444.49 Z" fill="#3fe03f" stroke="#3fe03f" stroke-width="0.4"/>
<path d="M171.10 402.10 L204.78 444.49 A57.3 52.4 0 0 1 188.81 451.94 Z" fill="#3552d4" stroke="#3552d4" stroke-width="0.4"/>
<path d="M171.10 402.10 L188.81 451.94 A57.3 52.4 0 0 1 171.10 454.50 Z" fill="#e8c435" stroke="#e8c435" stroke-width="0.4"/>
<path d="M171.10 402.10 L171.10 454.50 A57.3 52.4 0 0 1 153.39 451.94 Z" fill="#35e082" stroke="#35e082" stroke-width="0.4"/>
<path d="M171.10 402.10 L153.39 451.94 A57.3 52.4 0 0 1 137.42 444.49 Z" fill="#6535d4" stroke="#6535d4" stroke-width="0.4"/>
<path d="M171.10 402.10 L137.42 444.49 A57.3 52.4 0 0 1 124.74 432.90 Z" fill="#e8d435" stroke="#e8d435" stroke-width="0.4"/>
<path d="M171.10 402.10 L124.74 432.90 A57.3 52.4 0 0 1 116.60 418.29 Z" fill="#35e0b5" stroke="#35e0b5" stroke-width="0.4"/>
<path d="M171.10 402.10 L116.60 418.29 A57.3 52.4 0 0 1 113.80 402.10 Z" fill="#a535e2" stroke="#a535e2" stroke-width="0.4"/>
<path d="M171.10 402.10 L113.80 402.10 A57.3 52.4 0 0 1 116.60 385.91 Z" fill="#d0e035" stroke="#d0e035" stroke-width="0.4"/>
<path d="M171.10 402.10 L116.60 385.91 A57.3 52.4 0 0 1 124.74 371.30 Z" fill="#35d0e2" stroke="#35d0e2" stroke-width="0.4"/>
<path d="M171.10 402.10 L124.74 371.30 A57.3 52.4 0 0 1 137.42 359.71 Z" fill="#e245e2" stroke="#e245e2" stroke-width="0.4"/>
<path d="M171.10 402.10 L137.42 359.71 A57.3 52.4 0 0 1 153.39 352.26 Z" fill="#a0e03f" stroke="#a0e03f" stroke-width="0.4"/>
<path d="M171.10 402.10 L153.39 352.26 A57.3 52.4 0 0 1 171.10 349.70 Z" fill="#35a2e8" stroke="#35a2e8" stroke-width="0.4"/>
<ellipse cx="171.1" cy="402.1" rx="38" ry="35.6" fill="#e9e9e9"/>
<ellipse cx="171.1" cy="402.4" rx="25.7" ry="23" fill="#d0d0d3" stroke="#8e92a4" stroke-width="0.9"/>
<text transform="translate(178.58 358.54) rotate(6.8)" x="0" y="3.4" text-anchor="middle" font-size="9.6" fill="#17202e" stroke="#17202e" stroke-width="0.2">G</text>
<text transform="translate(192.80 362.81) rotate(17.8)" x="0" y="3.4" text-anchor="middle" font-size="9.6" fill="#17202e" stroke="#17202e" stroke-width="0.2">A</text>
<text transform="translate(204.90 370.92) rotate(22.0)" x="0" y="3.4" text-anchor="middle" font-size="9.6" fill="#17202e" stroke="#17202e" stroke-width="0.2">V</text>
<text transform="translate(213.69 382.08) rotate(6.2)" x="0" y="3.4" text-anchor="middle" font-size="9.6" fill="#17202e" stroke="#17202e" stroke-width="0.2">L</text>
<text transform="translate(218.31 395.20) rotate(2.4)" x="0" y="3.4" text-anchor="middle" font-size="9.6" fill="#17202e" stroke="#17202e" stroke-width="0.2">I</text>
<text transform="translate(218.31 409.00) rotate(-1.7)" x="0" y="3.4" text-anchor="middle" font-size="9.6" fill="#17202e" stroke="#17202e" stroke-width="0.2">P</text>
<text transform="translate(213.69 422.12) rotate(-4.5)" x="0" y="3.4" text-anchor="middle" font-size="9.6" fill="#17202e" stroke="#17202e" stroke-width="0.2">F</text>
<text transform="translate(204.90 433.28) rotate(-16.0)" x="0" y="3.4" text-anchor="middle" font-size="9.6" fill="#17202e" stroke="#17202e" stroke-width="0.2">W</text>
<text transform="translate(192.80 441.39) rotate(-12.9)" x="0" y="3.4" text-anchor="middle" font-size="9.6" fill="#17202e" stroke="#17202e" stroke-width="0.2">M</text>
<text transform="translate(178.58 445.66) rotate(-4.9)" x="0" y="3.4" text-anchor="middle" font-size="9.6" fill="#17202e" stroke="#17202e" stroke-width="0.2">S</text>
<text transform="translate(163.62 445.66) rotate(4.9)" x="0" y="3.4" text-anchor="middle" font-size="9.6" fill="#17202e" stroke="#17202e" stroke-width="0.2">T</text>
<text transform="translate(149.40 441.39) rotate(12.9)" x="0" y="3.4" text-anchor="middle" font-size="9.6" fill="#17202e" stroke="#17202e" stroke-width="0.2">Y</text>
<text transform="translate(137.30 433.28) rotate(16.0)" x="0" y="3.4" text-anchor="middle" font-size="9.6" fill="#17202e" stroke="#17202e" stroke-width="0.2">N</text>
<text transform="translate(128.51 422.12) rotate(4.5)" x="0" y="3.4" text-anchor="middle" font-size="9.6" fill="#17202e" stroke="#17202e" stroke-width="0.2">Q</text>
<text transform="translate(123.89 409.00) rotate(1.7)" x="0" y="3.4" text-anchor="middle" font-size="9.6" fill="#17202e" stroke="#17202e" stroke-width="0.2">C</text>
<text transform="translate(123.89 395.20) rotate(-2.4)" x="0" y="3.4" text-anchor="middle" font-size="9.6" fill="#17202e" stroke="#17202e" stroke-width="0.2">K</text>
<text transform="translate(128.51 382.08) rotate(-6.2)" x="0" y="3.4" text-anchor="middle" font-size="9.6" fill="#17202e" stroke="#17202e" stroke-width="0.2">R</text>
<text transform="translate(137.30 370.92) rotate(-22.0)" x="0" y="3.4" text-anchor="middle" font-size="9.6" fill="#17202e" stroke="#17202e" stroke-width="0.2">H</text>
<text transform="translate(149.40 362.81) rotate(-17.8)" x="0" y="3.4" text-anchor="middle" font-size="9.6" fill="#17202e" stroke="#17202e" stroke-width="0.2">D</text>
<text transform="translate(163.62 358.54) rotate(-6.8)" x="0" y="3.4" text-anchor="middle" font-size="9.6" fill="#17202e" stroke="#17202e" stroke-width="0.2">E</text>
<text x="171.2" y="398.3" text-anchor="middle" font-size="9.25" fill="#2c2c30">20-Natural</text>
<text x="171.2" y="409.4" text-anchor="middle" font-size="9.25" fill="#2c2c30">Amino</text>
<text x="171.2" y="420.5" text-anchor="middle" font-size="9.25" fill="#2c2c30">Acids</text>
<path d="M171.1 368.6 L168 378 L174.4 378 Z" fill="#e22020" stroke="#40302c" stroke-width="0.7" stroke-linejoin="round"/>
<defs>
<linearGradient id="gl" x1="0" y1="0" x2="0" y2="1"><stop offset="0" stop-color="#c4dfbe" stop-opacity="0.25"/><stop offset="0.45" stop-color="#a6cf9f"/><stop offset="1" stop-color="#98c690"/></linearGradient>
<linearGradient id="gr" x1="0" y1="1" x2="0" y2="0"><stop offset="0" stop-color="#c4dfbe" stop-opacity="0.25"/><stop offset="0.45" stop-color="#a6cf9f"/><stop offset="1" stop-color="#98c690"/></linearGradient>
</defs>
<path d="M116 383 C108 385.5 101 392 99.6 400.5 C99.2 403.5 99.1 406.5 99.2 409.2 L94.6 409.7 L106.3 423 L111 407.5 L107.3 407.9 C107 402 107.8 396 110.5 391.5 C112 389 114 386.5 116.6 384.6 Z" fill="url(#gl)"/>
<path d="M226.4 424.2 C233 422.5 240.5 416.5 243.2 407.8 C244 404.8 244.2 401.8 244.1 398.6 L247.8 398 L235.9 384 L231.6 400.2 L235.8 399.7 C236.2 405.5 235.2 411.5 232.4 416 C230.9 418.5 228.8 421 226 422.8 Z" fill="url(#gr)"/>
<text transform="translate(172.60 480.20) scale(1 1.050)" text-anchor="middle" font-size="21.3" font-weight="700" fill="#000">Random mutation of</text>
<text transform="translate(172.20 498.90) scale(1 1.050)" text-anchor="middle" font-size="21.1" font-weight="700" fill="#000">top 1% designs</text>
</g>
</g>
</svg>
</body></html>
